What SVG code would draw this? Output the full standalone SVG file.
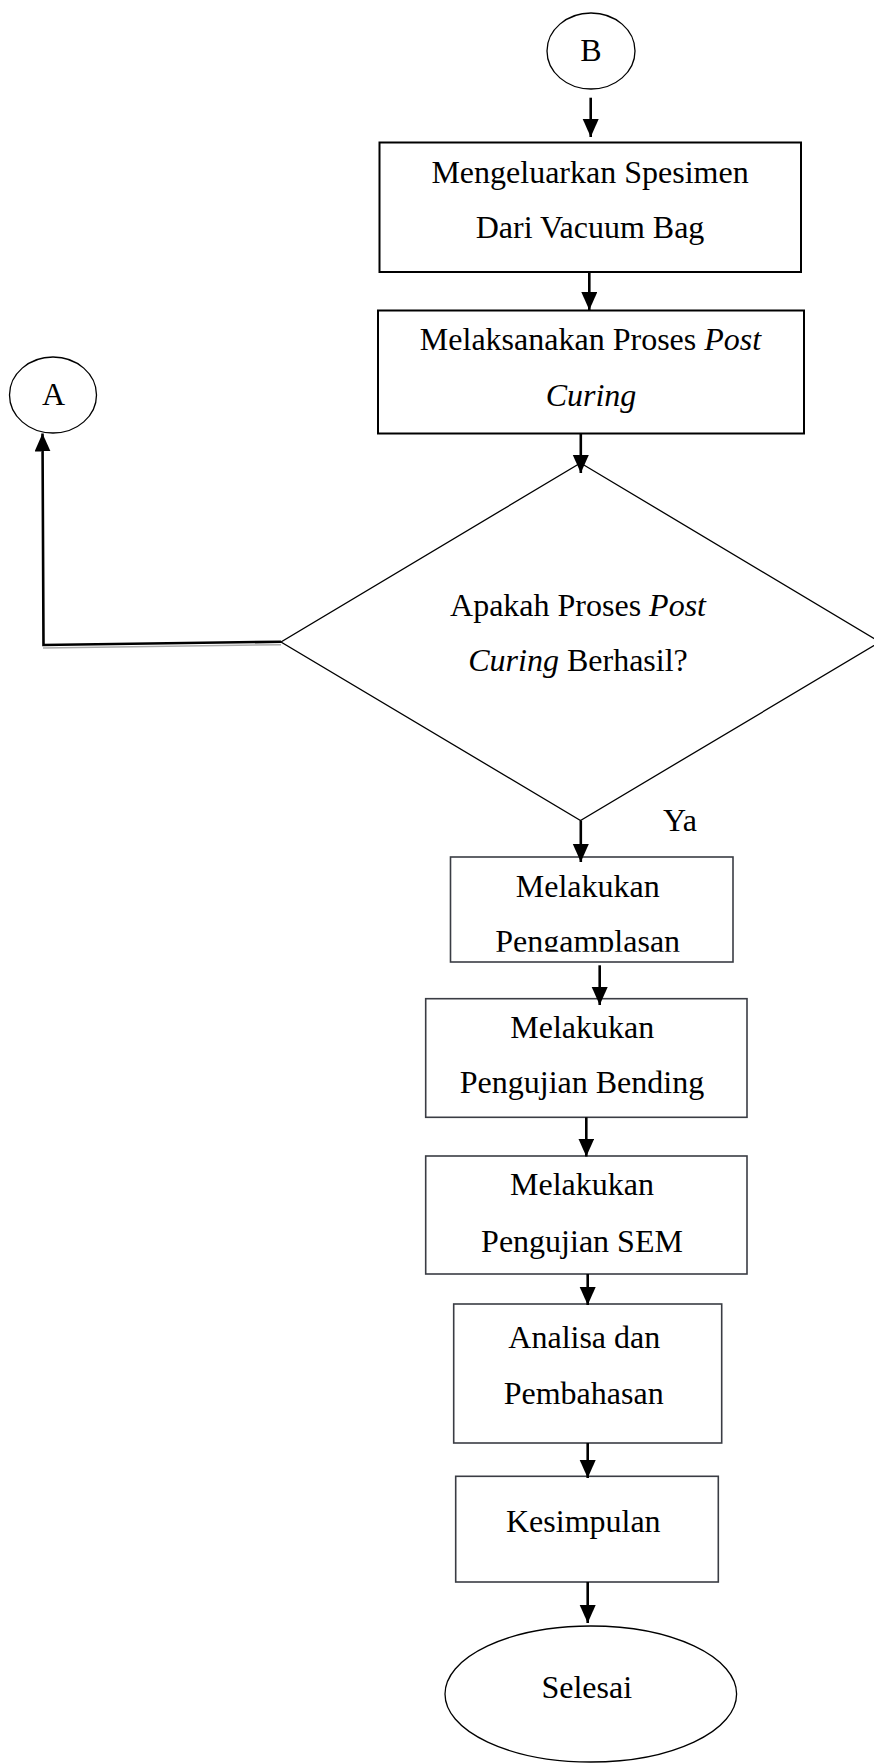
<svg xmlns="http://www.w3.org/2000/svg" width="874" height="1763" viewBox="0 0 874 1763">
<style>
.t{font-family:"Liberation Serif","Times New Roman",serif;font-size:32px;fill:#000;text-anchor:middle}
.i{font-style:italic}
.b1{fill:#fff;stroke:#000;stroke-width:2}
.b2{fill:#fff;stroke:#3a3d44;stroke-width:1.6}
.sh{fill:#fff;stroke:#000;stroke-width:1.3}
.c{fill:none;stroke:#000;stroke-width:2.6}
</style>
<defs>
<marker id="ah" markerUnits="userSpaceOnUse" markerWidth="19" markerHeight="17" refX="18" refY="8" orient="auto">
<path d="M0,0 L18,8 L0,16 z" fill="#000"/>
</marker>
<clipPath id="clip3"><rect x="440" y="850" width="300" height="101.8"/></clipPath>
</defs>
<rect width="874" height="1763" fill="#fff"/>

<g id="nodeB">
<ellipse class="sh" cx="591" cy="51" rx="44" ry="38"/>
<text class="t" x="591" y="61">B</text>
</g>

<g id="box1">
<rect class="b1" x="379.5" y="142.5" width="421.5" height="129.5"/>
<text class="t" x="590" y="182.5">Mengeluarkan Spesimen</text>
<text class="t" x="590" y="237.5">Dari Vacuum Bag</text>
</g>

<g id="box2">
<rect class="b1" x="378" y="310.5" width="426" height="123"/>
<text class="t" x="590.5" y="350">Melaksanakan Proses <tspan class="i">Post</tspan></text>
<text class="t i" x="591" y="405.5">Curing</text>
</g>

<g id="nodeA">
<ellipse class="sh" cx="53" cy="395" rx="43.5" ry="38"/>
<text class="t" x="53.5" y="404.7">A</text>
</g>

<g id="decision">
<polygon class="sh" points="580.5,463 880,642 580.5,820.5 281,642"/>
<text class="t" x="578" y="616">Apakah Proses <tspan class="i">Post</tspan></text>
<text class="t" x="578" y="670.5"><tspan class="i">Curing</tspan> Berhasil?</text>
</g>

<g id="labelYa">
<text class="t" x="680" y="830.5">Ya</text>
</g>

<g id="box3">
<rect class="b2" x="450.5" y="857" width="282.5" height="105"/>
<text class="t" x="587.7" y="896.5">Melakukan</text>
<text class="t" x="587.7" y="951.5" clip-path="url(#clip3)">Pengamplasan</text>
</g>

<g id="box4">
<rect class="b2" x="425.7" y="998.7" width="321.3" height="118.6"/>
<text class="t" x="582.3" y="1038.3">Melakukan</text>
<text class="t" x="582" y="1093.3">Pengujian Bending</text>
</g>

<g id="box5">
<rect class="b2" x="425.7" y="1156" width="321.3" height="118"/>
<text class="t" x="582" y="1195">Melakukan</text>
<text class="t" x="582" y="1251.7">Pengujian SEM</text>
</g>

<g id="box6">
<rect class="b2" x="453.7" y="1304" width="268" height="139"/>
<text class="t" x="584.3" y="1348.3">Analisa dan</text>
<text class="t" x="583.7" y="1404">Pembahasan</text>
</g>

<g id="box7">
<rect class="b2" x="455.7" y="1476.3" width="262.6" height="105.7"/>
<text class="t" x="583.3" y="1531.7">Kesimpulan</text>
</g>

<g id="nodeEnd">
<ellipse class="sh" cx="590.8" cy="1694" rx="145.8" ry="68"/>
<text class="t" x="586.7" y="1698.3">Selesai</text>
</g>

<g id="connectors">
<line class="c" x1="590.7" y1="97.7" x2="590.7" y2="137" marker-end="url(#ah)"/>
<line class="c" x1="589.3" y1="272" x2="589.3" y2="310" marker-end="url(#ah)"/>
<line class="c" x1="580.8" y1="433.7" x2="580.8" y2="473" marker-end="url(#ah)"/>
<line class="c" x1="580.8" y1="820.5" x2="580.8" y2="862" marker-end="url(#ah)"/>
<line class="c" x1="599.7" y1="965.3" x2="599.7" y2="1005" marker-end="url(#ah)"/>
<line class="c" x1="586.3" y1="1117.3" x2="586.3" y2="1156.5" marker-end="url(#ah)"/>
<line class="c" x1="587.7" y1="1274" x2="587.7" y2="1305" marker-end="url(#ah)"/>
<line class="c" x1="587.7" y1="1443" x2="587.7" y2="1478" marker-end="url(#ah)"/>
<line class="c" x1="587.7" y1="1582" x2="587.7" y2="1623" marker-end="url(#ah)"/>
<line x1="43" y1="648" x2="281" y2="644.7" stroke="#aaa" stroke-width="1.5"/>
<polyline class="c" points="281,641.7 43.5,645 42.5,433.5" marker-end="url(#ah)"/>
</g>
</svg>
